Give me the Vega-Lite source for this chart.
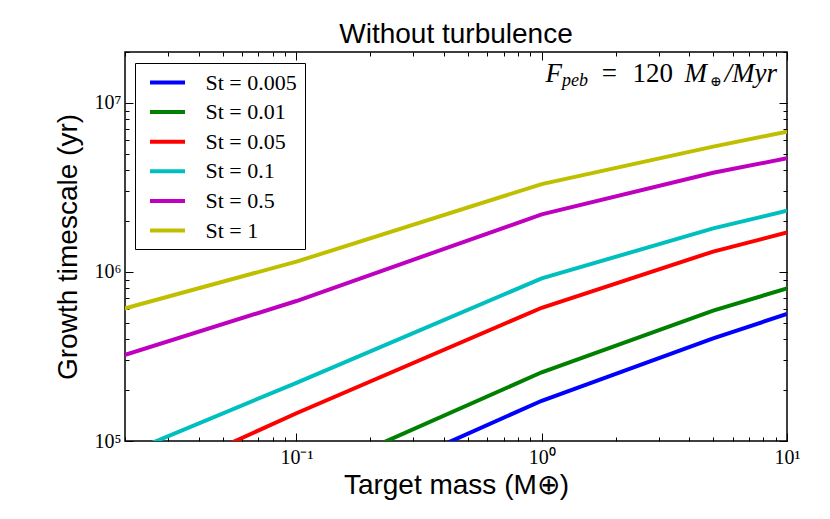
{
  "$schema": "https://vega.github.io/schema/vega-lite/v6.json",
  "width": 662,
  "height": 389,
  "autosize": {"type": "none"},
  "padding": {"left": 125, "top": 52, "right": 43, "bottom": 78},
  "background": "#ffffff",
  "title": {
    "text": "Without turbulence",
    "font": "Liberation Sans",
    "fontSize": 28,
    "fontWeight": "normal",
    "color": "#000000",
    "baseline": "alphabetic",
    "offset": -29
  },
  "config": {
    "view": {"stroke": "#000000", "strokeWidth": 1.5},
    "axis": {
      "domain": false,
      "grid": false,
      "tickColor": "#000000",
      "tickWidth": 1,
      "labelColor": "#000000",
      "labelFont": "Liberation Serif",
      "labelFontSize": 20,
      "labelFlush": false,
      "labelOverlap": false,
      "labelBound": false,
      "titleColor": "#000000",
      "titleFont": "Liberation Sans",
      "titleFontSize": 28,
      "titleFontWeight": "normal"
    }
  },
  "data": {
    "values": [
      {"St": "0.005", "mass": 0.01, "t": 8700},
      {"St": "0.005", "mass": 0.1, "t": 39000},
      {"St": "0.005", "mass": 1, "t": 173000},
      {"St": "0.005", "mass": 5, "t": 405000},
      {"St": "0.005", "mass": 10, "t": 564000},
      {"St": "0.01", "mass": 0.01, "t": 13000},
      {"St": "0.01", "mass": 0.1, "t": 58000},
      {"St": "0.01", "mass": 1, "t": 255000},
      {"St": "0.01", "mass": 5, "t": 590000},
      {"St": "0.01", "mass": 10, "t": 800000},
      {"St": "0.05", "mass": 0.01, "t": 32000},
      {"St": "0.05", "mass": 0.1, "t": 146000},
      {"St": "0.05", "mass": 1, "t": 614000},
      {"St": "0.05", "mass": 5, "t": 1320000},
      {"St": "0.05", "mass": 10, "t": 1710000},
      {"St": "0.1", "mass": 0.01, "t": 55000},
      {"St": "0.1", "mass": 0.1, "t": 221000},
      {"St": "0.1", "mass": 1, "t": 916000},
      {"St": "0.1", "mass": 5, "t": 1810000},
      {"St": "0.1", "mass": 10, "t": 2300000},
      {"St": "0.5", "mass": 0.01, "t": 236000},
      {"St": "0.5", "mass": 0.1, "t": 673000},
      {"St": "0.5", "mass": 1, "t": 2190000},
      {"St": "0.5", "mass": 5, "t": 3860000},
      {"St": "0.5", "mass": 10, "t": 4700000},
      {"St": "1", "mass": 0.01, "t": 463000},
      {"St": "1", "mass": 0.1, "t": 1150000},
      {"St": "1", "mass": 1, "t": 3310000},
      {"St": "1", "mass": 5, "t": 5510000},
      {"St": "1", "mass": 10, "t": 6760000}
    ]
  },
  "layer": [
    {
      "mark": {"type": "line", "strokeWidth": 4, "clip": true},
      "encoding": {
        "x": {
          "field": "mass",
          "type": "quantitative",
          "scale": {"type": "log", "domain": [0.02, 10], "nice": false},
          "axis": {
            "orient": "bottom",
            "values": [0.02, 0.03, 0.04, 0.05, 0.06, 0.07, 0.08, 0.09, 0.1, 0.2, 0.3, 0.4, 0.5, 0.6, 0.7, 0.8, 0.9, 1, 2, 3, 4, 5, 6, 7, 8, 9, 10],
            "labelExpr": "datum.value == 0.1 ? '10⁻¹' : datum.value == 1 ? '10⁰' : datum.value == 10 ? '10¹' : ''",
            "tickSize": {"condition": {"test": "indexof([0.1, 1, 10], datum.value) >= 0", "value": -8}, "value": -4},
            "labelPadding": 14,
            "title": "Target mass (M⊕)",
            "titlePadding": 0
          }
        },
        "y": {
          "field": "t",
          "type": "quantitative",
          "scale": {"type": "log", "domain": [100000, 20000000], "nice": false},
          "axis": {
            "orient": "left",
            "values": [100000, 200000, 300000, 400000, 500000, 600000, 700000, 800000, 900000, 1000000, 2000000, 3000000, 4000000, 5000000, 6000000, 7000000, 8000000, 9000000, 10000000, 20000000],
            "labelExpr": "datum.value == 100000 ? '10⁵' : datum.value == 1000000 ? '10⁶' : datum.value == 10000000 ? '10⁷' : ''",
            "tickSize": {"condition": {"test": "indexof([100000, 1000000, 10000000], datum.value) >= 0", "value": -8}, "value": -4},
            "labelPadding": 12,
            "labelBaseline": "middle",
            "title": "Growth timescale (yr)",
            "titlePadding": 12
          }
        },
        "color": {
          "field": "St",
          "type": "nominal",
          "scale": {
            "domain": ["0.005", "0.01", "0.05", "0.1", "0.5", "1"],
            "range": ["#0000ff", "#008000", "#ff0000", "#00bfbf", "#bf00bf", "#bfbf00"]
          },
          "legend": {
            "orient": "none",
            "legendX": 10,
            "legendY": 11,
            "title": null,
            "direction": "vertical",
            "symbolType": "M-1.75,0H1.75",
            "symbolSize": 400,
            "symbolStrokeWidth": 4,
            "symbolOffset": 13,
            "labelFont": "Liberation Serif",
            "labelFontSize": 22,
            "labelColor": "#000000",
            "labelExpr": "'St = ' + datum.label",
            "labelOffset": 26,
            "strokeColor": "#000000",
            "fillColor": "#ffffff",
            "padding": 7.5,
            "rowPadding": 6.6,
            "cornerRadius": 0
          }
        }
      }
    },
    {
      "mark": {"type": "point", "opacity": 0},
      "encoding": {
        "x": {
          "field": "mass",
          "type": "quantitative",
          "scale": {"type": "log", "domain": [0.02, 10], "nice": false},
          "axis": {
            "orient": "top",
            "labels": false,
            "title": null,
            "values": [0.02, 0.03, 0.04, 0.05, 0.06, 0.07, 0.08, 0.09, 0.1, 0.2, 0.3, 0.4, 0.5, 0.6, 0.7, 0.8, 0.9, 1, 2, 3, 4, 5, 6, 7, 8, 9, 10],
            "tickSize": {"condition": {"test": "indexof([0.1, 1, 10], datum.value) >= 0", "value": -8}, "value": -4}
          }
        },
        "y": {
          "field": "t",
          "type": "quantitative",
          "scale": {"type": "log", "domain": [100000, 20000000], "nice": false},
          "axis": {
            "orient": "right",
            "labels": false,
            "title": null,
            "values": [100000, 200000, 300000, 400000, 500000, 600000, 700000, 800000, 900000, 1000000, 2000000, 3000000, 4000000, 5000000, 6000000, 7000000, 8000000, 9000000, 10000000, 20000000],
            "tickSize": {"condition": {"test": "indexof([100000, 1000000, 10000000], datum.value) >= 0", "value": -8}, "value": -4}
          }
        }
      }
    },
    {
      "data": {"values": [{"part": "F"}]},
      "mark": {"type": "text", "align": "right", "baseline": "alphabetic", "dx": -225, "font": "Liberation Serif", "fontStyle": "italic", "fontSize": 27, "color": "#000000"},
      "encoding": {
        "x": {"datum": 10, "type": "quantitative", "axis": null},
        "y": {"datum": 13300000, "type": "quantitative", "axis": null},
        "text": {"field": "part"}
      }
    },
    {
      "data": {"values": [{"part": "peb"}]},
      "mark": {"type": "text", "align": "right", "baseline": "alphabetic", "dx": -199, "dy": 4, "font": "Liberation Serif", "fontStyle": "italic", "fontSize": 18, "color": "#000000"},
      "encoding": {
        "x": {"datum": 10, "type": "quantitative", "axis": null},
        "y": {"datum": 13300000, "type": "quantitative", "axis": null},
        "text": {"field": "part"}
      }
    },
    {
      "data": {"values": [{"part": "="}]},
      "mark": {"type": "text", "align": "right", "baseline": "alphabetic", "dx": -170, "font": "Liberation Serif", "fontSize": 27, "color": "#000000"},
      "encoding": {
        "x": {"datum": 10, "type": "quantitative", "axis": null},
        "y": {"datum": 13300000, "type": "quantitative", "axis": null},
        "text": {"field": "part"}
      }
    },
    {
      "data": {"values": [{"part": "120"}]},
      "mark": {"type": "text", "align": "right", "baseline": "alphabetic", "dx": -114, "font": "Liberation Serif", "fontSize": 27, "color": "#000000"},
      "encoding": {
        "x": {"datum": 10, "type": "quantitative", "axis": null},
        "y": {"datum": 13300000, "type": "quantitative", "axis": null},
        "text": {"field": "part"}
      }
    },
    {
      "data": {"values": [{"part": "M"}]},
      "mark": {"type": "text", "align": "right", "baseline": "alphabetic", "dx": -80, "font": "Liberation Serif", "fontStyle": "italic", "fontSize": 27, "color": "#000000"},
      "encoding": {
        "x": {"datum": 10, "type": "quantitative", "axis": null},
        "y": {"datum": 13300000, "type": "quantitative", "axis": null},
        "text": {"field": "part"}
      }
    },
    {
      "data": {"values": [{"part": "⊕"}]},
      "mark": {"type": "text", "align": "right", "baseline": "alphabetic", "dx": -65, "dy": 4, "font": "DejaVu Serif", "fontSize": 14, "color": "#000000"},
      "encoding": {
        "x": {"datum": 10, "type": "quantitative", "axis": null},
        "y": {"datum": 13300000, "type": "quantitative", "axis": null},
        "text": {"field": "part"}
      }
    },
    {
      "data": {"values": [{"part": "/Myr"}]},
      "mark": {"type": "text", "align": "right", "baseline": "alphabetic", "dx": -10, "font": "Liberation Serif", "fontStyle": "italic", "fontSize": 27, "color": "#000000"},
      "encoding": {
        "x": {"datum": 10, "type": "quantitative", "axis": null},
        "y": {"datum": 13300000, "type": "quantitative", "axis": null},
        "text": {"field": "part"}
      }
    }
  ],
  "resolve": {"axis": {"x": "independent", "y": "independent"}}
}
